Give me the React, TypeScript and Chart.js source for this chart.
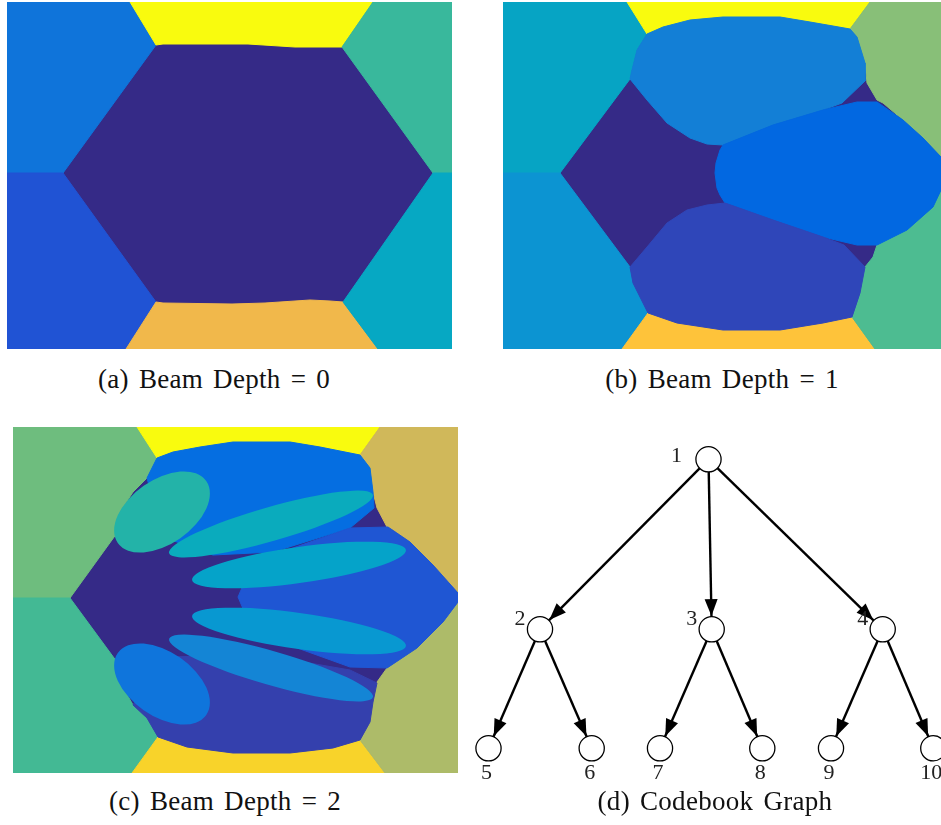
import React, { useEffect, useRef } from "react";
import { Chart, registerables } from "chart.js";

Chart.register(...registerables);

type P = [number, number];
type Ell = { cx: number; cy: number; a: number; b: number; angle: number; color: string };

// ---------------- Panel (a): Beam Depth = 0 ----------------
const aExtent: P = [445, 347];
const aDark: P[] = [[0, 0], [445, 0], [445, 347], [0, 347]];
const aTopLeft: P[] = [[0, 0], [123, 0], [149, 43], [56, 171], [0, 171]];
const aTop: P[] = [[123, 0], [366, 0], [335, 45], [288, 45], [241, 42], [156, 42], [149, 43]];
const aTopRight: P[] = [[366, 0], [445, 0], [445, 171], [426, 171], [335, 45]];
const aBottomLeft: P[] = [[0, 171], [56, 171], [149, 300], [119, 347], [0, 347]];
const aBottom: P[] = [[149, 300], [156, 301], [225, 302], [258, 301], [303, 298], [323, 299], [336, 300], [371, 347], [119, 347]];
const aBottomRight: P[] = [[426, 171], [445, 171], [445, 347], [371, 347], [336, 300]];
const aRegions: P[][] = [aDark, aTopLeft, aTop, aTopRight, aBottomLeft, aBottom, aBottomRight];
const aColors = ["#352a87", "#0f74da", "#f9fb0e", "#39b89c", "#2053d4", "#f1b84b", "#06a8c3"];

// ---------------- Panel (b): Beam Depth = 1 ----------------
const bExtent: P = [438, 347];
const bDark: P[] = [[0, 0], [438, 0], [438, 347], [0, 347]];
const bTopLeft: P[] = [[0, 0], [124, 0], [144, 32], [134, 48], [129, 68], [127, 77], [57, 171], [0, 171]];
const bTop: P[] = [[124, 0], [367, 0], [347, 27], [330, 24], [307, 20], [277, 15], [220, 15], [187, 18], [160, 25], [144, 32]];
const bTopRight: P[] = [[367, 0], [438, 0], [438, 155], [420, 136], [400, 118], [380, 101], [374, 98], [364, 81], [362, 61], [354, 35], [347, 27]];
const bBottomLeft: P[] = [[0, 171], [57, 171], [127, 265], [130, 281], [140, 301], [145, 311], [119, 347], [0, 347]];
const bBottom: P[] = [[119, 347], [145, 311], [174, 321], [220, 328], [277, 328], [320, 321], [349, 315], [372, 347]];
const bBottomRight: P[] = [[438, 188], [438, 347], [372, 347], [349, 315], [357, 291], [362, 265], [370, 255], [374, 243], [404, 228], [430, 205]];
const bBlobTop: P[] = [[144, 32], [160, 25], [187, 18], [220, 15], [277, 15], [307, 20], [330, 24], [347, 27], [354, 35], [362, 61], [362, 79], [339, 101], [320, 108], [270, 123], [220, 143], [204, 142], [187, 136], [164, 121], [144, 98], [127, 77], [129, 68], [134, 48]];
const bBlobRight: P[] = [[220, 143], [270, 123], [320, 108], [354, 100], [374, 100], [400, 118], [420, 136], [438, 155], [438, 188], [430, 205], [404, 228], [374, 243], [354, 243], [320, 235], [270, 218], [222, 201], [217, 193], [214, 186], [212, 171], [213, 161], [217, 148]];
const bBlobBottom: P[] = [[204, 203], [222, 201], [270, 218], [320, 235], [341, 243], [362, 265], [357, 291], [349, 315], [320, 321], [277, 328], [220, 328], [174, 321], [145, 311], [140, 301], [130, 281], [127, 265], [144, 245], [164, 221], [184, 208]];
const bRegions: P[][] = [bDark, bTopLeft, bTop, bTopRight, bBottomLeft, bBottom, bBottomRight, bBlobTop, bBlobRight, bBlobBottom];
const bColors = ["#352a87", "#06a4c4", "#f9fb0e", "#88bf78", "#0c94d2", "#fec33a", "#4dbc91", "#137fd6", "#0268e1", "#2f46b9"];

// ---------------- Panel (c): Beam Depth = 2 ----------------
const cExtent: P = [445, 346];
const cDark: P[] = [[0, 0], [445, 0], [445, 346], [0, 346]];
const cTopLeft: P[] = [[0, 0], [124, 0], [144, 31], [134, 51], [120, 65], [107, 85], [104, 106], [57, 171], [0, 171]];
const cTop: P[] = [[124, 0], [367, 0], [347, 28], [307, 20], [277, 15], [220, 15], [187, 20], [160, 25], [144, 31]];
const cTopRight: P[] = [[367, 0], [445, 0], [445, 166], [420, 138], [397, 115], [380, 103], [374, 100], [364, 81], [360, 65], [357, 41], [347, 28]];
const cBottomLeft: P[] = [[0, 171], [57, 171], [104, 235], [107, 255], [120, 278], [134, 291], [145, 310], [119, 346], [0, 346]];
const cBottom: P[] = [[119, 346], [145, 310], [174, 320], [220, 326], [277, 326], [320, 321], [347, 313], [372, 346]];
const cBottomRight: P[] = [[445, 175], [445, 346], [372, 346], [347, 313], [357, 295], [360, 275], [364, 255], [374, 241], [404, 221], [430, 195]];
const cBlobTop: P[] = [[144, 31], [160, 25], [187, 20], [220, 15], [277, 15], [307, 20], [347, 28], [357, 41], [360, 65], [361, 81], [337, 101], [260, 125], [200, 128], [150, 110], [134, 51]];
const cBlobRight: P[] = [[337, 101], [375, 100], [397, 115], [420, 138], [445, 166], [445, 175], [430, 195], [404, 221], [374, 241], [337, 240], [240, 205], [225, 170], [240, 135]];
const cBlobBottom: P[] = [[150, 230], [250, 228], [337, 243], [364, 256], [360, 275], [357, 295], [347, 313], [320, 321], [277, 326], [220, 326], [174, 320], [145, 310], [134, 291], [120, 278]];
const cRegions: P[][] = [cDark, cTopLeft, cTop, cTopRight, cBottomLeft, cBottom, cBottomRight, cBlobTop, cBlobRight, cBlobBottom];
const cColors = ["#352a87", "#6ebd7e", "#f9fb0e", "#d0b85a", "#43b994", "#f8d32a", "#adbb69", "#056ee1", "#1f56d3", "#3440ad"];
// elongated cells (ellipses), listed bottom-to-top
const cEllipseX = [286, 286, 258, 258, 149, 149];
const cEllipseY = [138, 204, 97, 241, 85, 257];
const cEllipseA = [108, 108, 106, 106, 54, 54];
const cEllipseB = [18, 18, 17, 17, 32, 32];
const cEllipseAngle = [-8, 8, -16, 16, -35, 35];
const cEllipseColors = ["#05a3c9", "#0898d1", "#0aabbd", "#1485d5", "#23b3a8", "#0f75dc"];

// ---------------- Panel (d): Codebook Graph ----------------
const nodeLabels = ["1", "2", "3", "4", "5", "6", "7", "8", "9", "10"];
const nodeDepth = [0, 1, 1, 1, 2, 2, 2, 2, 2, 2];
const nodeX = [248.5, 80, 251.7, 422.7, 28.5, 131.7, 200, 302.3, 371, 473.3];
const nodeY = [29.3, 199.3, 199.3, 199.3, 318.3, 318.3, 318.3, 318.3, 318.3, 318.3];
const edgeFrom = [0, 0, 0, 1, 1, 2, 2, 3, 3];
const edgeTo = [1, 2, 3, 4, 5, 6, 7, 8, 9];
const dExtent: P = [481, 365];

// ---------------- Captions ----------------
const captions = ["(a) Beam Depth = 0", "(b) Beam Depth = 1", "(c) Beam Depth = 2", "(d) Codebook Graph"];

const SERIF = '"Liberation Serif", "DejaVu Serif", serif';

function makeEllipsePlugin(ells: Ell[]) {
  return {
    id: "cellEllipses",
    afterDatasetsDraw(chart: any) {
      const { ctx, scales } = chart;
      const xs = scales.x;
      const ys = scales.y;
      ctx.save();
      for (const e of ells) {
        const px = xs.getPixelForValue(e.cx);
        const py = ys.getPixelForValue(e.cy);
        const rx = Math.abs(xs.getPixelForValue(e.a) - xs.getPixelForValue(0));
        const ry = Math.abs(ys.getPixelForValue(e.b) - ys.getPixelForValue(0));
        ctx.beginPath();
        ctx.ellipse(px, py, rx, ry, (e.angle * Math.PI) / 180, 0, Math.PI * 2);
        ctx.fillStyle = e.color;
        ctx.fill();
      }
      ctx.restore();
    },
  };
}

const baseOptions = (w: number, h: number) => ({
  animation: false,
  responsive: false,
  events: [],
  layout: { padding: 0, autoPadding: false },
  plugins: { legend: { display: false }, tooltip: { enabled: false } },
  scales: {
    x: { type: "linear", display: false, min: 0, max: w },
    y: { type: "linear", display: false, min: 0, max: h, reverse: true },
  },
});

function RegionMap(props: {
  left: number; top: number; extent: P; regions: P[][]; colors: string[]; ellipses?: Ell[];
}) {
  const ref = useRef<HTMLCanvasElement>(null);
  const [w, h] = props.extent;
  useEffect(() => {
    const n = props.regions.length;
    const chart = new Chart(ref.current as HTMLCanvasElement, {
      type: "line",
      data: {
        datasets: props.regions.map((pts, i) => ({
          data: [...pts, pts[0]].map(([x, y]) => ({ x, y })),
          fill: "shape",
          backgroundColor: props.colors[i],
          borderColor: props.colors[i],
          borderWidth: 1,
          pointRadius: 0,
          pointHoverRadius: 0,
          tension: 0,
          order: n - i,
        })),
      } as any,
      options: baseOptions(w, h) as any,
      plugins: props.ellipses ? [makeEllipsePlugin(props.ellipses)] : [],
    });
    return () => chart.destroy();
  }, []);
  return (
    <canvas
      ref={ref}
      width={w}
      height={h}
      style={{ position: "absolute", left: props.left, top: props.top, width: w, height: h }}
    />
  );
}

const graphPlugin = {
  id: "graphDecor",
  afterDatasetsDraw(chart: any) {
    const { ctx, scales } = chart;
    const xs = scales.x;
    const ys = scales.y;
    const r = 13.2;
    const len = 17;
    const half = 6.5;
    ctx.save();
    ctx.fillStyle = "#000";
    for (let k = 0; k < edgeFrom.length; k++) {
      const p = edgeFrom[k];
      const c = edgeTo[k];
      const x1 = xs.getPixelForValue(nodeX[p]);
      const y1 = ys.getPixelForValue(nodeY[p]);
      const x2 = xs.getPixelForValue(nodeX[c]);
      const y2 = ys.getPixelForValue(nodeY[c]);
      const d = Math.hypot(x2 - x1, y2 - y1);
      const ux = (x2 - x1) / d;
      const uy = (y2 - y1) / d;
      const tx = x2 - ux * r;
      const ty = y2 - uy * r;
      const bx = tx - ux * len;
      const by = ty - uy * len;
      ctx.beginPath();
      ctx.moveTo(tx, ty);
      ctx.lineTo(bx - uy * half, by + ux * half);
      ctx.lineTo(bx + uy * half, by - ux * half);
      ctx.closePath();
      ctx.fill();
    }
    ctx.font = `22px ${SERIF}`;
    ctx.fillStyle = "#222";
    ctx.textAlign = "center";
    ctx.textBaseline = "middle";
    for (let i = 0; i < nodeLabels.length; i++) {
      const x = xs.getPixelForValue(nodeX[i]);
      const y = ys.getPixelForValue(nodeY[i]);
      let ox = -2;
      let oy = 25;
      if (nodeDepth[i] === 0) { ox = -32; oy = -3; }
      else if (nodeDepth[i] === 1) { ox = -20; oy = -10; }
      ctx.fillText(nodeLabels[i], x + ox, y + oy);
    }
    ctx.restore();
  },
};

function CodebookGraph(props: { left: number; top: number }) {
  const ref = useRef<HTMLCanvasElement>(null);
  const [w, h] = dExtent;
  useEffect(() => {
    const edgeSets = edgeFrom.map((p, k) => ({
      type: "line",
      data: [
        { x: nodeX[p], y: nodeY[p] },
        { x: nodeX[edgeTo[k]], y: nodeY[edgeTo[k]] },
      ],
      borderColor: "#000",
      borderWidth: 2.4,
      pointRadius: 0,
      fill: false,
      tension: 0,
      order: 2,
    }));
    const nodeSet = {
      type: "scatter",
      data: nodeX.map((x, i) => ({ x, y: nodeY[i] })),
      pointRadius: 12.6,
      pointHoverRadius: 12.6,
      pointBackgroundColor: "#fff",
      pointBorderColor: "#000",
      pointBorderWidth: 1.3,
      order: 1,
    };
    const chart = new Chart(ref.current as HTMLCanvasElement, {
      type: "scatter",
      data: { datasets: [...edgeSets, nodeSet] } as any,
      options: baseOptions(w, h) as any,
      plugins: [graphPlugin],
    });
    return () => chart.destroy();
  }, []);
  return (
    <canvas
      ref={ref}
      width={w}
      height={h}
      style={{ position: "absolute", left: props.left, top: props.top, width: w, height: h }}
    />
  );
}

function Caption(props: { text: string; cx: number; baseline: number }) {
  const F = 27;
  return (
    <div
      style={{
        position: "absolute",
        left: props.cx - 200,
        width: 400,
        top: props.baseline - 0.8375 * F,
        fontSize: F,
        lineHeight: `${F}px`,
        fontFamily: SERIF,
        letterSpacing: "0.3px",
        wordSpacing: "3px",
        textAlign: "center",
        whiteSpace: "nowrap",
        color: "#111",
      }}
    >
      {props.text}
    </div>
  );
}

export default function App() {
  const ellipses: Ell[] = cEllipseX.map((cx, i) => ({
    cx,
    cy: cEllipseY[i],
    a: cEllipseA[i],
    b: cEllipseB[i],
    angle: cEllipseAngle[i],
    color: cEllipseColors[i],
  }));
  return (
    <div
      style={{
        position: "fixed",
        left: 0,
        top: 0,
        width: 941,
        height: 825,
        background: "#fff",
        overflow: "hidden",
      }}
    >
      <RegionMap left={7} top={2} extent={aExtent} regions={aRegions} colors={aColors} />
      <RegionMap left={503} top={2} extent={bExtent} regions={bRegions} colors={bColors} />
      <RegionMap left={13} top={427} extent={cExtent} regions={cRegions} colors={cColors} ellipses={ellipses} />
      <CodebookGraph left={460} top={430} />
      <Caption text={captions[0]} cx={214} baseline={388.5} />
      <Caption text={captions[1]} cx={722} baseline={388.5} />
      <Caption text={captions[2]} cx={225} baseline={811} />
      <Caption text={captions[3]} cx={715} baseline={811} />
    </div>
  );
}
